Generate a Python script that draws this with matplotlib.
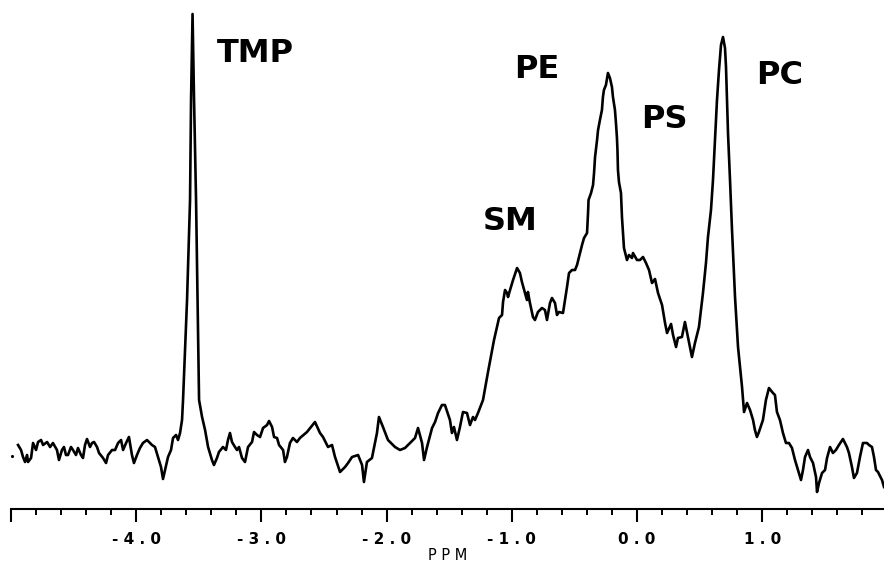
import matplotlib
matplotlib.use("Agg")
import matplotlib.pyplot as plt
from matplotlib.ticker import MultipleLocator

# 31P NMR spectrum: chemical shift (ppm) and intensity (arb. units)
ppm = [
    -4.944, -4.920, -4.904, -4.888, -4.872, -4.864, -4.840, -4.824, -4.800, -4.784,
    -4.760, -4.744, -4.712, -4.688, -4.665, -4.633, -4.617, -4.593, -4.577, -4.561,
    -4.545, -4.521, -4.505, -4.481, -4.465, -4.441, -4.425, -4.409, -4.393, -4.369,
    -4.353, -4.337, -4.313, -4.297, -4.265, -4.241, -4.225, -4.193, -4.169, -4.145,
    -4.121, -4.105, -4.081, -4.058, -4.034, -4.018, -3.994, -3.970, -3.946, -3.914,
    -3.898, -3.874, -3.850, -3.826, -3.802, -3.786, -3.770, -3.746, -3.722, -3.706,
    -3.682, -3.666, -3.650, -3.634, -3.626, -3.594, -3.570, -3.562, -3.550, -3.538,
    -3.522, -3.498, -3.474, -3.450, -3.426, -3.395, -3.379, -3.355, -3.339, -3.307,
    -3.283, -3.267, -3.251, -3.235, -3.211, -3.195, -3.179, -3.155, -3.131, -3.107,
    -3.075, -3.059, -3.035, -3.011, -2.987, -2.955, -2.939, -2.915, -2.899, -2.875,
    -2.859, -2.827, -2.812, -2.796, -2.772, -2.748, -2.716, -2.692, -2.636, -2.572,
    -2.532, -2.508, -2.468, -2.436, -2.412, -2.372, -2.332, -2.308, -2.276, -2.228,
    -2.196, -2.181, -2.157, -2.117, -2.077, -2.061, -2.029, -1.989, -1.933, -1.893,
    -1.853, -1.813, -1.773, -1.749, -1.717, -1.701, -1.677, -1.637, -1.613, -1.589,
    -1.558, -1.534, -1.494, -1.478, -1.462, -1.438, -1.414, -1.390, -1.358, -1.334,
    -1.310, -1.294, -1.270, -1.230, -1.190, -1.142, -1.118, -1.102, -1.078, -1.070,
    -1.054, -1.038, -1.030, -1.014, -0.990, -0.958, -0.935, -0.919, -0.895, -0.879,
    -0.871, -0.855, -0.831, -0.815, -0.791, -0.759, -0.735, -0.719, -0.695, -0.679,
    -0.655, -0.639, -0.623, -0.591, -0.575, -0.559, -0.543, -0.519, -0.495, -0.479,
    -0.463, -0.439, -0.423, -0.399, -0.391, -0.387, -0.367, -0.351, -0.343, -0.335,
    -0.319, -0.311, -0.296, -0.280, -0.272, -0.264, -0.248, -0.232, -0.216, -0.200,
    -0.192, -0.176, -0.168, -0.160, -0.156, -0.152, -0.144, -0.128, -0.120, -0.112,
    -0.104, -0.080, -0.064, -0.040, -0.032, 0.000, 0.024, 0.048, 0.072, 0.096,
    0.120, 0.144, 0.168, 0.200, 0.224, 0.240, 0.272, 0.288, 0.312, 0.327,
    0.359, 0.383, 0.407, 0.439, 0.463, 0.495, 0.527, 0.551, 0.567, 0.591,
    0.607, 0.623, 0.639, 0.655, 0.671, 0.687, 0.703, 0.711, 0.727, 0.743,
    0.759, 0.783, 0.807, 0.839, 0.855, 0.879, 0.903, 0.927, 0.942, 0.958,
    0.974, 1.006, 1.030, 1.054, 1.086, 1.102, 1.118, 1.142, 1.166, 1.190,
    1.214, 1.238, 1.262, 1.286, 1.310, 1.326, 1.342, 1.366, 1.382, 1.406,
    1.430, 1.438, 1.454, 1.478, 1.502, 1.518, 1.542, 1.565, 1.589, 1.613,
    1.645, 1.677, 1.693, 1.717, 1.733, 1.757, 1.781, 1.805, 1.837, 1.853,
    1.877, 1.893, 1.909, 1.925, 1.957, 1.973,
]
intensity = [
    64, 59, 52, 47, 54, 47, 51, 66, 59, 67,
    69, 64, 67, 62, 66, 59, 49, 59, 62, 54,
    54, 62, 59, 54, 61, 54, 51, 64, 70, 62,
    66, 67, 62, 56, 51, 46, 54, 59, 59, 66,
    69, 59, 66, 72, 54, 46, 54, 61, 66, 69,
    67, 64, 62, 52, 42, 30, 39, 52, 59, 71,
    74, 69, 76, 89, 109, 209, 309, 409, 495, 409,
    309, 109, 92, 79, 62, 49, 44, 51, 57, 62,
    59, 69, 76, 67, 62, 59, 62, 51, 47, 62,
    67, 77, 74, 72, 81, 84, 88, 82, 72, 71,
    64, 59, 47, 52, 66, 71, 67, 71, 77, 87,
    76, 72, 62, 64, 52, 37, 42, 46, 52, 54,
    44, 27, 47, 51, 76, 92, 82, 69, 62, 59,
    61, 66, 71, 81, 66, 49, 62, 81, 87, 96,
    104, 104, 89, 76, 82, 69, 82, 97, 96, 84,
    92, 89, 96, 109, 137, 169, 182, 191, 194, 207,
    219, 216, 212, 219, 229, 241, 236, 227, 216, 209,
    217, 206, 192, 189, 197, 201, 199, 189, 206, 211,
    206, 194, 197, 196, 209, 222, 236, 239, 239, 244,
    252, 264, 271, 276, 296, 309, 316, 324, 336, 352,
    369, 379, 389, 399, 412, 419, 424, 436, 431, 422,
    412, 399, 386, 371, 359, 339, 327, 316, 292, 276,
    261, 249, 254, 251, 256, 249, 249, 252, 246, 239,
    226, 230, 216, 204, 186, 176, 185, 174, 162, 171,
    172, 187, 172, 152, 166, 182, 216, 246, 272, 299,
    329, 369, 409, 439, 464, 472, 461, 442, 376, 329,
    279, 212, 162, 122, 97, 106, 99, 89, 79, 72,
    77, 89, 109, 121, 116, 114, 97, 89, 76, 66,
    66, 61, 49, 39, 29, 39, 52, 59, 52, 46,
    32, 17, 26, 36, 39, 51, 62, 56, 59, 64,
    70, 62, 56, 42, 31, 36, 52, 66, 66, 64,
    62, 52, 39, 37, 29, 22,
]

# peak assignments: label, ppm, intensity of label centre
peak_names = ["TMP", "PE", "SM", "PS", "PC"]
peak_ppm = [-3.05, -0.80, -1.01, 0.22, 1.14]
peak_height = [455, 440, 288, 390, 433]

tick_values = [-5.0, -4.0, -3.0, -2.0, -1.0, 0.0, 1.0]
tick_labels = ["", "-4.0", "-3.0", "-2.0", "-1.0", "0.0", "1.0"]

fig = plt.figure(figsize=(8.84, 5.64), dpi=100)
ax = fig.add_axes([0, 0, 1, 1])

ax.plot(ppm, intensity, color="black", lw=1.9, solid_joinstyle="round")
ax.plot([-4.992], [53], ".", color="black", ms=2.5)

ax.set_xlim(-5.088, 1.973)
ax.set_ylim(-55, 509)

for side in ["left", "right", "top"]:
    ax.spines[side].set_visible(False)
ax.spines["bottom"].set_position(("data", 0))
ax.spines["bottom"].set_bounds(-5.0, 1.973)
ax.spines["bottom"].set_linewidth(1.5)
ax.set_yticks([])

ax.set_xticks(tick_values)
# the original plotter prints the numbers spread out
ax.set_xticklabels([" ".join(t) for t in tick_labels], fontsize=11, fontweight="bold")
ax.xaxis.set_minor_locator(MultipleLocator(0.2))
ax.tick_params(axis="x", which="major", direction="out", length=9.4, width=1.5, pad=7)
ax.tick_params(axis="x", which="minor", direction="out", length=4.3, width=1.4)

ax.text(-1.51, -46, "P P M", ha="center", va="center", fontsize=10.5)

for name, x, y in zip(peak_names, peak_ppm, peak_height):
    ax.text(x, y, name, ha="center", va="center", fontsize=23, fontweight="bold")

fig.savefig("out.png", dpi=100)
